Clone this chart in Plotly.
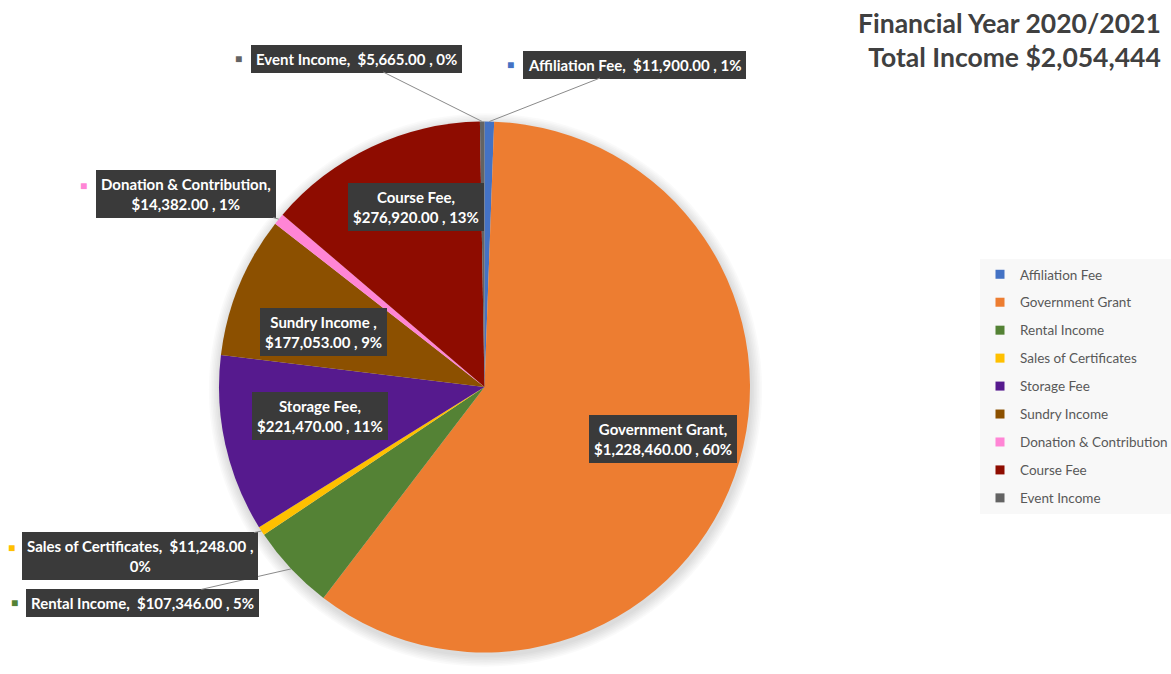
import math
import plotly.graph_objects as go

# ---------------- data ----------------
categories = ["Affiliation Fee", "Government Grant", "Rental Income", "Sales of Certificates",
              "Storage Fee", "Sundry Income", "Donation & Contribution", "Course Fee", "Event Income"]
values = [11900.00, 1228460.00, 107346.00, 11248.00, 221470.00, 177053.00, 14382.00, 276920.00, 5665.00]
pct_shown = [1, 60, 5, 0, 11, 9, 1, 13, 0]
colors = ["#4472C4", "#ED7D31", "#548235", "#FFC000", "#561A8E", "#8C5000", "#FF85D5", "#8E0C00", "#636363"]
# label text layout (separator after name, separator before percentage)
name_sep = [",&nbsp; ", ",<br>", ",&nbsp; ", ",&nbsp; ", ",<br>", " ,<br>", ",<br>", ",<br>", ",&nbsp; "]
pct_sep = [" , ", " , ", " , ", " ,<br>", " , ", " , ", " , ", " , ", " , "]
title_line1 = "Financial Year 2020/2021"

# ---------------- layout / style ----------------
W, H = 1171, 674
PIE_CX, PIE_CY, PIE_R = 484.5, 387.0, 265.5
FONT = "Lato"
BOX = "#3a3a3a"

# inside labels: radial fraction + small angular nudge (deg); outside: pixel offset of box centre
label_style = {
    "Government Grant": dict(inside=True, rf=0.699, da=-3.3),
    "Course Fee": dict(inside=True, rf=0.727, da=4.5),
    "Sundry Income": dict(inside=True, rf=0.643, da=-3.5),
    "Storage Fee": dict(inside=True, rf=0.627, da=2.6),
    "Event Income": dict(inside=False, ax=-126, ay=-63, bw=222),
    "Affiliation Fee": dict(inside=False, ax=145, ay=-57, bw=234),
    "Donation & Contribution": dict(inside=False, ax=-93, ay=-25, bw=190, two=True),
    "Sales of Certificates": dict(inside=False, ax=-121, ay=25, bw=244, two=True),
    "Rental Income": dict(inside=False, ax=-149, ay=34, bw=242),
}

total = sum(values)

fig = go.Figure()
fig.add_trace(go.Pie(
    labels=categories, values=values, sort=False, direction="clockwise", rotation=0,
    marker=dict(colors=colors, line=dict(width=0)),
    textinfo="none", showlegend=False, hoverinfo="label+value+percent",
    domain=dict(x=[(PIE_CX - PIE_R) / W, (PIE_CX + PIE_R) / W],
                y=[1 - (PIE_CY + PIE_R) / H, 1 - (PIE_CY - PIE_R) / H]),
))

for c, col in zip(categories, colors):
    fig.add_trace(go.Scatter(x=[None], y=[None], mode="markers", name=c, legendgroup=c,
                             marker=dict(symbol="square", size=9, color=col), hoverinfo="skip"))

# soft shadow behind the pie
shapes = []
for k in range(1, 8):
    rr = PIE_R + 1.6 * k
    scx, scy = PIE_CX + 1, PIE_CY + 3
    shapes.append(dict(type="circle", xref="paper", yref="paper", layer="below",
                       x0=(scx - rr) / W, x1=(scx + rr) / W,
                       y0=1 - (scy + rr) / H, y1=1 - (scy - rr) / H,
                       fillcolor="rgba(0,0,0,0.018)", line=dict(width=0)))

annotations = []
cum = 0.0
for name, v, p, col, s1, s2 in zip(categories, values, pct_shown, colors, name_sep, pct_sep):
    mid = (cum + v / 2) / total
    cum += v
    ang = 2 * math.pi * mid
    st = label_style[name]
    text = f"{name}{s1}${v:,.2f}{s2}{p}%"
    font = dict(family=FONT, size=15, color="white", weight="bold")
    if st["inside"]:
        a = ang + math.radians(st["da"])
        px = PIE_CX + st["rf"] * PIE_R * math.sin(a)
        py = PIE_CY - st["rf"] * PIE_R * math.cos(a)
        annotations.append(dict(x=px / W, y=1 - py / H, xref="paper", yref="paper", text=text,
                                xanchor="center", yanchor="middle",
                                showarrow=False, bgcolor=BOX, bordercolor=BOX, borderpad=4,
                                font=font, align="center"))
    else:
        px = PIE_CX + PIE_R * math.sin(ang)
        py = PIE_CY - PIE_R * math.cos(ang)
        annotations.append(dict(x=px / W, y=1 - py / H, xref="paper", yref="paper", text=text,
                                showarrow=True, ax=st["ax"], ay=st["ay"], arrowhead=0,
                                arrowwidth=1, arrowcolor="#8a8a8a", standoff=0,
                                bgcolor=BOX, bordercolor=BOX, borderpad=4, font=font,
                                align="center"))
        bx = px + st["ax"] - st["bw"] / 2 - 7
        by = py + st["ay"] - (9 if st.get("two") else 0)
        annotations.append(dict(x=bx / W, y=1 - by / H, xref="paper", yref="paper", text="■",
                                xanchor="center", yanchor="middle",
                                showarrow=False, font=dict(size=12, color=col)))

annotations.append(dict(x=1163 / W, y=1 - 5 / H, xref="paper", yref="paper", xanchor="right",
                        yanchor="top", align="right", showarrow=False,
                        text=f"{title_line1}<br>Total Income ${total:,.0f}",
                        font=dict(family=FONT, size=26.5, color="#404040", weight="bold")))

fig.update_layout(
    width=W, height=H, autosize=False,
    margin=dict(l=0, r=0, t=0, b=0, autoexpand=False),
    paper_bgcolor="white", plot_bgcolor="white",
    xaxis=dict(visible=False), yaxis=dict(visible=False),
    annotations=annotations, shapes=shapes,
    legend=dict(x=980 / W, y=1 - 259 / H, xanchor="left", yanchor="top",
                bgcolor="#f8f8f8", tracegroupgap=7.4, itemwidth=30,
                font=dict(family=FONT, size=13.5, color="#595959")),
    showlegend=True,
)

fig.write_html(
    "out.html",
    config={"displayModeBar": False, "responsive": False},
    post_script=("document.body.style.margin='0px';document.body.style.overflow='hidden';"
                 "var gd=document.getElementById('{plot_id}');"
                 "Plotly.relayout(gd,{width:%d,height:%d});" % (W, H)),
)
